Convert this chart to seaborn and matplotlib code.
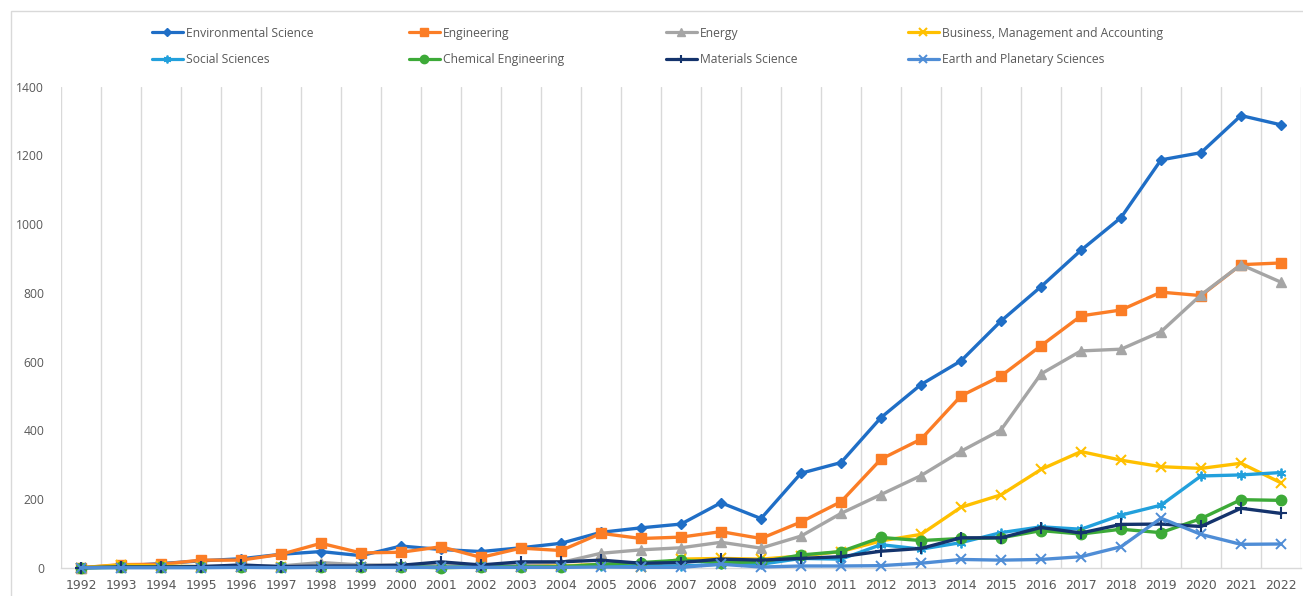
import matplotlib
matplotlib.use("Agg")
import matplotlib.pyplot as plt
from matplotlib.patches import Rectangle
from matplotlib.lines import Line2D
import seaborn as sns

# Publications per year by subject area
years = list(range(1992, 2023))

environmental_science = [0, 5, 12, 20, 26, 39, 47, 35, 63, 53, 47, 58, 71, 103, 116, 127,
                         189, 143, 275, 306, 437, 533, 602, 718, 818, 924, 1019, 1187, 1208, 1316, 1289]
engineering = [0, 9, 10, 22, 22, 39, 71, 43, 45, 61, 30, 57, 50, 100, 85, 89,
               105, 85, 133, 192, 316, 374, 500, 558, 646, 733, 750, 802, 792, 882, 887]
energy = [0, 2, 3, 4, 5, 5, 15, 8, 8, 8, 5, 8, 15, 42, 52, 58,
          74, 57, 92, 158, 213, 268, 339, 401, 564, 631, 636, 687, 794, 882, 831]
business = [0, 8, 5, 3, 3, 2, 3, 3, 3, 3, 2, 3, 5, 10, 3, 25,
            27, 25, 34, 47, 78, 97, 176, 212, 286, 338, 313, 294, 289, 304, 247]
social_sciences = [0, 1, 1, 1, 2, 1, 2, 2, 2, 2, 2, 3, 3, 5, 5, 5,
                   10, 10, 27, 25, 67, 54, 73, 102, 119, 112, 153, 182, 267, 270, 277]
chemical_engineering = [0, 1, 1, 2, 3, 1, 2, 2, 3, 0, 2, 3, 3, 10, 15, 22,
                        15, 17, 37, 47, 88, 79, 85, 87, 108, 98, 112, 102, 143, 198, 196]
materials_science = [0, 2, 2, 3, 8, 3, 5, 5, 7, 17, 8, 17, 17, 22, 13, 15,
                     25, 22, 27, 32, 48, 56, 87, 87, 117, 101, 126, 127, 120, 173, 158]
earth_planetary = [0, 0, 0, 0, 1, 0, 1, 1, 1, 1, 1, 1, 1, 2, 1, 1,
                   10, 2, 5, 5, 6, 13, 24, 22, 24, 32, 61, 144, 97, 68, 69]

series_names = ["Environmental Science", "Engineering", "Energy",
                "Business, Management and Accounting", "Social Sciences",
                "Chemical Engineering", "Materials Science", "Earth and Planetary Sciences"]
series_values = [environmental_science, engineering, energy, business,
                 social_sciences, chemical_engineering, materials_science, earth_planetary]

y_ticks = [0, 200, 400, 600, 800, 1000, 1200, 1400]

# Styling per series: colour, marker, marker size, marker edge width
styles = [
    ("#1F6EC6", "D", 4.6, 1.0),
    ("#FB7D26", "s", 7.5, 1.0),
    ("#A5A5A5", "^", 7.0, 1.0),
    ("#FFC000", "x", 7.0, 1.5),
    ("#22A0DC", (6, 2, 0), 7.0, 1.3),
    ("#3DAA38", "o", 7.5, 1.0),
    ("#14336C", "+", 8.0, 1.5),
    ("#4F8DD6", "x", 7.0, 1.4),
]

sns.set_style("white")
plt.rcParams["font.family"] = ["Open Sans", "DejaVu Sans"]

W, H = 1303, 596
fig = plt.figure(figsize=(W / 100, H / 100), dpi=100)
ax = fig.add_axes([61 / W, (H - 567.7) / H, (1301 - 61) / W, (567.7 - 86.7) / H])

text_grey = "#595959"
grid_grey = "#D9D9D9"

handles = []
for i, (name, vals) in enumerate(zip(series_names, series_values)):
    color, marker, ms, mew = styles[i]
    sns.lineplot(x=years, y=vals, ax=ax, color=color, marker=marker,
                 markersize=ms, markeredgecolor=color, markerfacecolor=color,
                 markeredgewidth=mew, linewidth=2.4, clip_on=False,
                 zorder=3 + i, legend=False)
    handles.append(Line2D([], [], color=color, marker=marker, markersize=ms * 0.8,
                          markeredgecolor=color, markerfacecolor=color,
                          markeredgewidth=mew, linewidth=2.3, label=name))

ax.set_xlim(years[0] - 0.5, years[-1] + 0.5)
ax.set_ylim(0, 1400)
ax.set_xticks(years)
ax.set_xticklabels([str(y) for y in years], family="DejaVu Sans", fontsize=9, color=text_grey)
ax.set_xticks([y - 0.5 for y in years] + [years[-1] + 0.5], minor=True)
ax.set_yticks(y_ticks)
ax.set_yticklabels([str(v) for v in y_ticks], fontsize=8.7, color=text_grey)
ax.tick_params(axis="both", which="both", length=0)
ax.tick_params(axis="x", which="major", pad=8)
ax.tick_params(axis="y", which="major", pad=12)
ax.grid(False)
ax.grid(True, axis="x", which="minor", color=grid_grey, linewidth=1.0)
ax.set_xlabel("")
ax.set_ylabel("")
for side in ("left", "right", "top"):
    ax.spines[side].set_visible(False)
ax.spines["bottom"].set_color(grid_grey)
ax.spines["bottom"].set_linewidth(1.0)
ax.spines["bottom"].set_zorder(1)

# Chart-area border
fig.add_artist(Rectangle((11 / W, -0.1), 1.2, 1 - 11 / H + 0.1, transform=fig.transFigure,
                         fill=False, edgecolor=grid_grey, linewidth=1.0, clip_on=False))

# Legend laid out in four columns of two rows
col_x = [152, 409, 666, 908]
for c in range(4):
    leg = fig.legend(handles=[handles[c], handles[c + 4]], loc="center left",
                     bbox_to_anchor=(col_x[c] / W, 1 - 46.2 / H), frameon=False,
                     fontsize=8.7, handlelength=2.55, handletextpad=0.25,
                     labelspacing=1.1, borderpad=0, borderaxespad=0)
    for t in leg.get_texts():
        t.set_color(text_grey)

fig.savefig("out.png", dpi=100)
